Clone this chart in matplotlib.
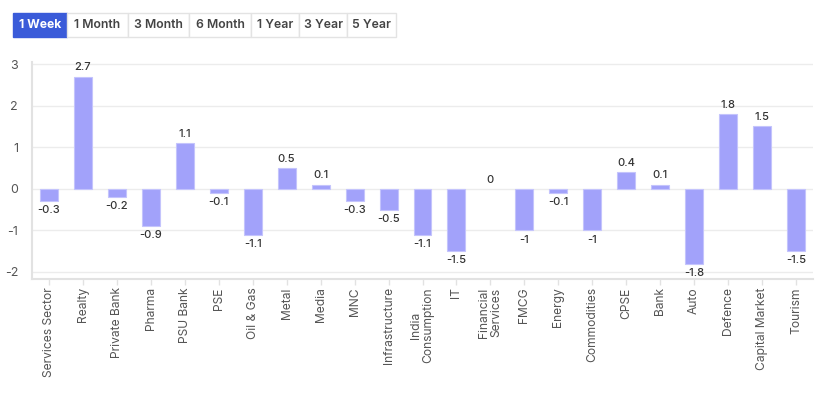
import matplotlib.pyplot as plt
from matplotlib.patches import Rectangle

sectors = ['Services Sector', 'Realty', 'Private Bank', 'Pharma', 'PSU Bank', 'PSE',
           'Oil & Gas', 'Metal', 'Media', 'MNC', 'Infrastructure', 'India\nConsumption',
           'IT', 'Financial\nServices', 'FMCG', 'Energy', 'Commodities', 'CPSE', 'Bank',
           'Auto', 'Defence', 'Capital Market', 'Tourism']
returns = [-0.3, 2.7, -0.2, -0.9, 1.1, -0.1, -1.1, 0.5, 0.1, -0.3, -0.5, -1.1,
           -1.5, 0, -1, -0.1, -1, 0.4, 0.1, -1.8, 1.8, 1.5, -1.5]
periods = ['1 Week', '1 Month', '3 Month', '6 Month', '1 Year', '3 Year', '5 Year']
yticks = [-2, -1, 0, 1, 2, 3]

plt.rcParams['font.family'] = ['Inter', 'DejaVu Sans']

W, H = 831, 397
fig = plt.figure(figsize=(W / 100, H / 100), dpi=100)
ax = fig.add_axes([32 / W, 1 - 279 / H, (813 - 32) / W, (279 - 62) / H])

x = range(len(sectors))
ax.bar(x, returns, width=0.53, color='#a2a2fa', edgecolor='#c4c4fc',
       linewidth=[0.8 if v else 0 for v in returns], zorder=3)

for i, v in enumerate(returns):
    txt = '%g' % v
    if v >= 0:
        ax.annotate(txt, (i, v), xytext=(0, 3), textcoords='offset points',
                    ha='center', va='bottom', fontsize=8, fontweight='medium', color='#333333')
    else:
        ax.annotate(txt, (i, v), xytext=(0, -3), textcoords='offset points',
                    ha='center', va='top', fontsize=8, fontweight='medium', color='#333333')

ax.set_xlim(-0.5, len(sectors) - 0.5)
ax.set_ylim(-2.17, 3.05)
ax.set_yticks(yticks)
ax.set_yticklabels([str(t) for t in yticks])
ax.set_xticks(list(x))
ax.set_xticklabels(sectors, rotation=90, va='top', ha='center', fontsize=8.7, color='#555555',
                   linespacing=1.0)
ax.tick_params(axis='y', length=0, labelsize=9, labelcolor='#555555', pad=10)
ax.tick_params(axis='x', length=4, color='#e2e2e2', width=1, pad=2)
ax.grid(axis='y', color='#ececec', linewidth=1, zorder=0)
for s in ['top', 'right']:
    ax.spines[s].set_visible(False)
for s in ['left', 'bottom']:
    ax.spines[s].set_color('#e2e2e2')
    ax.spines[s].set_linewidth(1.5)

# period selector buttons
edges = [13, 67, 128, 189, 251, 299, 347, 396]
y0, y1 = 13, 37
for i, p in enumerate(periods):
    x0, x1 = edges[i], edges[i + 1]
    active = i == 0
    fig.patches.append(Rectangle((x0 / W, 1 - y1 / H), (x1 - x0) / W, (y1 - y0) / H,
                                 transform=fig.transFigure,
                                 facecolor='#3a5bd9' if active else 'white',
                                 edgecolor='#3a5bd9' if active else '#e3e3e3', linewidth=1))
    fig.text((x0 + x1) / 2 / W, 1 - (y0 + y1) / 2 / H, p, ha='center', va='center',
             fontsize=8.8, fontweight='bold' if active else 'semibold',
             color='white' if active else '#444444')

fig.savefig('out.png', dpi=100)
